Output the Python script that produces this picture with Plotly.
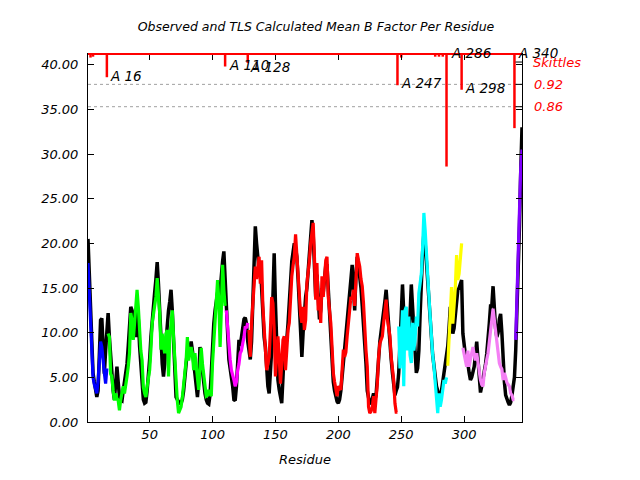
import plotly.graph_objects as go

# ---------------- data ----------------
residues = list(range(1, 347))

observed_b = [
    20.5, 17, 12, 8, 5.5, 4.5, 3.5, 2.8, 3.5, 7,
    11.4, 11.6, 8, 5.4, 8, 10.5, 12.2, 9.5, 7, 4.7,
    3.5, 2.5, 4.5, 6.2, 4.5, 2.8, 2.5, 2.4, 3.5, 4.5,
    5.5, 6.5, 8.5, 11, 12.9, 12.5, 12, 11, 9.5, 12.5,
    11.5, 8.5, 6, 4.5, 2.5, 2.1, 2.2, 3.5, 5, 7,
    9.5, 11.5, 12.5, 14.5, 16, 17.9, 15.5, 12.5, 9, 6.5,
    5.1, 6.5, 9, 11, 12.5, 13.5, 14.8, 12.5, 9, 6,
    2.8, 2.5, 2.2, 2.1, 2.1, 2.5, 3.5, 5, 6.5, 8,
    7.5, 8.5, 9, 8, 6.5, 5, 3.5, 2.8, 4.5, 8.4,
    7, 5.5, 4, 3.2, 2.5, 2.1, 2.0, 3, 5.5, 8.8,
    11, 12.5, 13.3, 14.5, 13, 15, 16.3, 18, 19.1, 16,
    13.3, 8.1, 7, 6, 5.1, 4, 2.5, 2.4, 4, 6.9,
    9.2, 8.5, 9.5, 10.5, 11.5, 11.7, 11, 9, 7.5, 7.0,
    9, 13, 18, 21.9, 20, 18.5, 17, 17.8, 15, 11.1,
    9.5, 8.4, 5.5, 4, 3.2, 5, 8, 14, 18.9, 13.3,
    8, 4.7, 3.6, 3, 2.1, 5, 8, 8.5, 9.2, 11,
    13.5, 16.3, 18, 19, 20.0, 19.5, 18.5, 16, 13.6, 10,
    7.3, 10, 12.7, 14, 15, 17, 19, 21, 22.6, 21,
    17, 14, 16.5, 13, 11.5, 12.5, 15, 14.5, 16.5, 17.5,
    17.5, 15, 12, 9, 6.5, 4.5, 3.5, 2.8, 2.3, 2.1,
    2.5, 3.5, 5, 7, 8, 9, 10.5, 12, 14, 16,
    17.6, 15, 12.5, 16.5, 18.5, 17.5, 16.5, 15, 13, 11,
    9, 6.5, 3.5, 2.5, 2.0, 2.3, 2.6, 3.2, 2.5, 3,
    4.5, 7, 9, 10, 11.5, 12.5, 13.5, 14.8, 12.5, 10.5,
    9, 7, 5.5, 4, 3, 3.5, 3.9, 5.5, 8, 12,
    15.4, 12, 9, 10.5, 8.5, 10, 12, 15.4, 13, 10,
    7, 5.5, 6, 8, 12, 16, 19, 21.1, 20, 18,
    15.5, 13, 11, 9.5, 7.5, 6, 5, 4, 3.5, 3.2,
    3.0, 3.5, 4.5, 5.5, 6, 7, 8.5, 10.5, 12.9, 11,
    9.9, 10.5, 12, 13.5, 14.8, 15, 15.5, 15.9, 9.9, 8.5,
    7.5, 7.0, 6.5, 5.5, 4.7, 5, 5.5, 6.2, 7.5, 9.0,
    7, 4.5, 3.3, 4.0, 4.7, 5.5, 6.5, 7.7, 9, 11,
    13, 13, 15.2, 12.5, 10.5, 9.5, 10, 11.5, 12.1, 10,
    6, 4.5, 3, 2.5, 2.2, 1.9, 2.2, 3, 4, 5,
    8, 12, 16, 22, 28, 33,
]

tls_b = [
    17.8, 15, 11, 8, 5, 4.2, 3.5, 3.2, 4.5, 7,
    9.0, 8.4, 6.5, 5.5, 4.3, 6, 9.9, 9.5, 5.4, 5.1,
    3.5, 2.4, 3.2, 2.6, 2.4, 1.3, 2.5, 3.2, 4.0, 3.2,
    4.5, 5.1, 6.2, 7.7, 12.2, 11.4, 9.2, 11, 12.5, 14.8,
    12.9, 9.5, 8, 6.9, 3.9, 3.2, 2.8, 3.9, 4.8, 5.8,
    8.1, 11.0, 12, 12.9, 14.0, 16.1, 14, 12.2, 8.1, 9.9,
    8.5, 7.7, 9.9, 10.3, 5.1, 9.5, 11, 12.5, 9.5, 6.6,
    4.7, 2.4, 1.0, 1.3, 1.7, 2.8, 4.7, 5.5, 6.9, 9.5,
    6.9, 7.5, 8.4, 7.7, 5.8, 7.7, 6.2, 4.5, 3.6, 6.0,
    8.3, 6.5, 5, 4.0, 2.9, 3.0, 3.6, 3.2, 2.9, 6.6,
    9, 10.3, 13, 15.9, 13.6, 8.4, 12.5, 17.6, 14.8, 13.0,
    12.5, 10.5, 8.8, 7, 5.8, 5, 4.7, 4.0, 4.5, 5.8,
    6.5, 7.7, 8, 8.8, 9.5, 10.7, 10.5, 11.1, 10.3, 7.3,
    11, 13, 15.5, 17.4, 16, 17, 18.5, 15.5, 18.1, 13,
    10, 8.8, 5.8, 6.5, 7.3, 10.3, 14, 13.3, 10.3, 5.1,
    8, 9.6, 7.3, 4.3, 6.5, 9.2, 9.6, 5.8, 8, 10.3,
    11.1, 14, 16.3, 17.5, 18.5, 21.0, 18.5, 16.5, 14.8, 12,
    11.1, 12.9, 10.3, 11.4, 15.5, 16.5, 18.1, 20, 21.5, 22.3,
    18.5, 13.7, 17.8, 12.5, 14, 11.1, 16.3, 14.0, 16, 18.1,
    18.5, 14.0, 12.5, 11.1, 8.4, 5.5, 4.5, 3.6, 2.9, 4.0,
    3.8, 3.6, 5.8, 8.1, 7.3, 7.8, 9.6, 11.4, 12.5, 14.0,
    13.7, 14.8, 13.0, 16, 18.9, 18.1, 17.4, 16, 15.2, 13.3,
    10.3, 8, 6.2, 1.7, 1.0, 1.2, 1.7, 2.9, 1.0, 2.5,
    4.3, 7.3, 8.8, 9.2, 9.6, 11.1, 12.5, 13.7, 11.5, 10.3,
    9.6, 7.3, 6, 4.7, 2.1, 1.1, 1.1, 10.7, 6.0, 9.2,
    12.5, 4.0, 12.5, 12.9, 8, 11.8, 7.5, 6.6, 11.1, 8,
    9.2, 11.8, 10.7, 14.4, 15.5, 16.6, 19.6, 23.4, 21.5, 18.5,
    16.7, 14.1, 11.8, 9.2, 7.5, 6.2, 4.0, 2.5, 1.0, 3.2,
    1.7, 2.5, 3.9, 4.7, 4.3, 5.0, 6.3, 9.2, 12.9, 15.1,
    11.0, 13, 15.1, 18.7, 15.9, 16.6, 18, 20.0, 8.3, 7.5,
    6.5, 6.2, 8.0, 6.2, 7.0, 7.7, 8.4, 7.5, 6.9, 7.7,
    6.5, 5.5, 4.7, 4.2, 4.0, 5.5, 6.5, 7.0, 7.7, 8.8,
    10.3, 11.5, 12.7, 11.4, 10.0, 9.2, 7.4, 6.6, 6.2, 5.9,
    4.7, 5.5, 5.0, 4.4, 4.2, 4.0, 3.2, 3.0, 2.5, 2.5,
    9.2, 13.7, 19.3, 25.3, 28.5, 30.5,
]

# TLS groups: last residue of each group and its colour
group_ends = [16, 110, 128, 247, 286, 298, 340, 346]
group_colors = ["#0000ff", "#00ff00", "#ff00ff", "#ff0000",
                "#00ffff", "#ffff00", "#f47ff4", "#8000ff"]

# Skittles (group boundary markers)
skittle_res = [16, 110, 128, 247, 286, 298, 340]
skittle_bottom = [38.6, 39.8, 40.2, 37.7, 28.6, 37.2, 32.9]
skittle_labels = ["A 16", "A 110", "A 128", "A 247", "A 286", "A 298", "A 340"]
label_x = [16.5, 111.5, 128.5, 248.5, 288, 299, 341.5]
label_y = [38.7, 40.0, 39.7, 37.9, 41.3, 37.4, 41.3]
small_skittle_res = [3, 5, 250, 277, 280, 283]
small_skittle_bottom = [40.8, 40.9, 40.8, 40.9, 40.9, 40.9]
skittle_levels = [37.8, 35.3]
skittle_level_text = ["0.92", "0.86"]

x_range = [1, 346]
y_range = [0, 41.2]

FONT = "DejaVu Sans"

fig = go.Figure()

# observed (black)
fig.add_trace(go.Scatter(x=residues, y=observed_b, mode="lines",
                         line=dict(color="black", width=3.5), showlegend=False))

# TLS calculated, coloured by group
start = 1
for end, col in zip(group_ends, group_colors):
    xs = residues[start - 1:end]
    ys = tls_b[start - 1:end]
    fig.add_trace(go.Scatter(x=xs, y=ys, mode="lines",
                             line=dict(color=col, width=3.2), showlegend=False))
    start = end + 1

# skittle lines
sx, sy = [], []
for r, b in zip(skittle_res + small_skittle_res, skittle_bottom + small_skittle_bottom):
    sx += [r, r, None]
    sy += [y_range[1], b, None]
fig.add_trace(go.Scatter(x=sx, y=sy, mode="lines",
                         line=dict(color="#ff0000", width=2.5),
                         showlegend=False, cliponaxis=False))

shapes = []
# dashed reference levels
for lv in skittle_levels:
    shapes.append(dict(type="line", xref="paper", x0=0, x1=1, yref="y", y0=lv, y1=lv,
                       line=dict(color="#a0a0a0", width=1, dash="3px,3px"), layer="below"))
# red baseline at top
shapes.append(dict(type="line", xref="paper", x0=0, x1=1, yref="paper", y0=1, y1=1,
                   line=dict(color="#ff0000", width=2)))
# extra right-axis ticks for skittle levels
for lv in [40.3] + skittle_levels:
    shapes.append(dict(type="line", xref="paper", x0=0.985, x1=1, yref="y", y0=lv, y1=lv,
                       line=dict(color="black", width=1)))

annotations = []
for t, xx, yy in zip(skittle_labels, label_x, label_y):
    annotations.append(dict(x=xx, y=yy / y_range[1], xref="x", yref="paper", text=t,
                            showarrow=False, xanchor="left", yanchor="middle",
                            font=dict(family=FONT, size=13.5, color="black", style="italic")))
annotations.append(dict(x=1.02, y=40.3 / y_range[1], xref="paper", yref="paper", text="Skittles",
                        showarrow=False, xanchor="left", yanchor="middle",
                        font=dict(family=FONT, size=13, color="#ff0000", style="italic")))
for lv, t in zip(skittle_levels, skittle_level_text):
    annotations.append(dict(x=1.022, y=lv / y_range[1], xref="paper", yref="paper", text=t,
                            showarrow=False, xanchor="left", yanchor="middle",
                            font=dict(family=FONT, size=13, color="#ff0000", style="italic")))

fig.update_layout(
    width=640, height=480,
    margin=dict(l=85, r=118, t=54, b=58),
    paper_bgcolor="white", plot_bgcolor="white",
    font=dict(family=FONT, size=13, color="black", style="italic"),
    title=dict(text="Observed and TLS Calculated Mean B Factor Per Residue",
               x=316 / 640, xref="container", xanchor="center",
               y=1 - 27 / 480, yref="container", yanchor="middle",
               font=dict(family=FONT, size=12.5, color="black", style="italic")),
    shapes=shapes, annotations=annotations,
    showlegend=False,
)
fig.update_xaxes(range=x_range, tickmode="array", tickvals=[50, 100, 150, 200, 250, 300],
                 ticks="inside", ticklen=6, tickcolor="black", showline=True,
                 linecolor="black", linewidth=1, mirror="ticks", showgrid=False,
                 zeroline=False,
                 title=dict(text="Residue", standoff=14,
                            font=dict(family=FONT, size=13, style="italic")),
                 tickfont=dict(family=FONT, size=13, style="italic"))
fig.update_yaxes(range=y_range, tickmode="array", tickvals=[0, 5, 10, 15, 20, 25, 30, 35, 40],
                 tickformat=".2f",
                 ticks="inside", ticklen=6, tickcolor="black", showline=True,
                 linecolor="black", linewidth=1, mirror="ticks", showgrid=False,
                 zeroline=False, ticklabelstandoff=6,
                 title=dict(text="<B>", standoff=20,
                            font=dict(family=FONT, size=13, style="italic")),
                 tickfont=dict(family=FONT, size=13, style="italic"))

fig.write_html("out.html", config={"displayModeBar": False},
               post_script="document.body.style.margin='0px';document.body.style.padding='0px';")
